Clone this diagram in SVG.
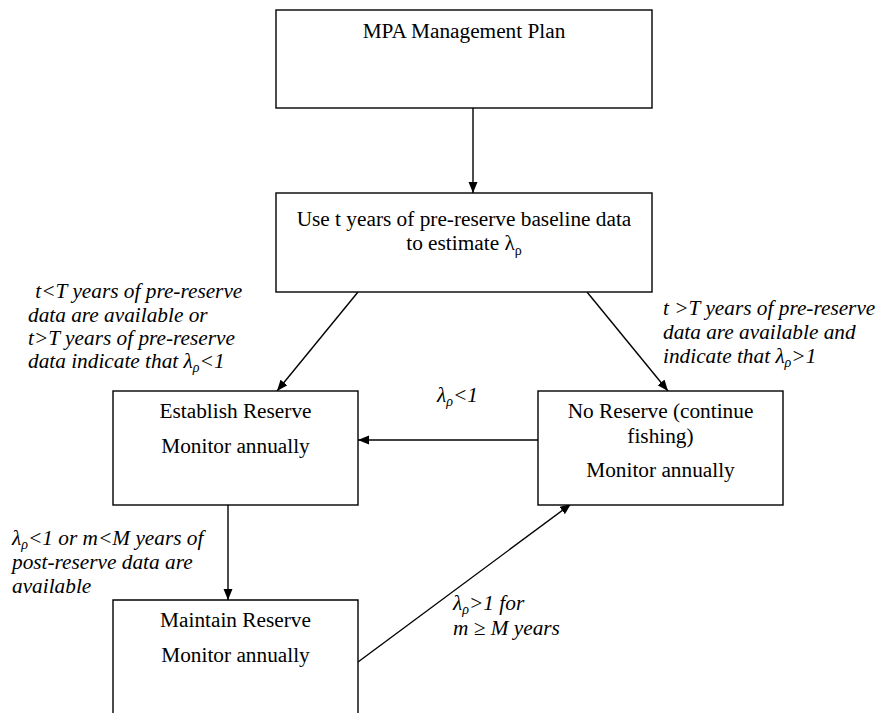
<svg xmlns="http://www.w3.org/2000/svg" width="886" height="713" viewBox="0 0 886 713">
<style>
.box{fill:#fff;stroke:#000;stroke-width:1.4}
text{font-family:'Liberation Serif','DejaVu Serif',serif;font-size:21.3px;fill:#000}
.c{text-anchor:middle}
.i{font-style:italic}
.sub{font-size:14px}
.ln{stroke:#000;stroke-width:1.4;fill:none}
</style>
<defs>
<marker id="ah" markerUnits="userSpaceOnUse" markerWidth="12" markerHeight="10" refX="11" refY="4.5" orient="auto">
<path d="M0,0 L11,4.5 L0,9 z" fill="#000"/>
</marker>
</defs>
<rect width="886" height="713" fill="#fff"/>
<g id="connectors">
<line class="ln" x1="473" y1="108" x2="473" y2="193" marker-end="url(#ah)"/>
<line class="ln" x1="358" y1="292" x2="277" y2="391" marker-end="url(#ah)"/>
<line class="ln" x1="587" y1="292" x2="668" y2="391" marker-end="url(#ah)"/>
<line class="ln" x1="538" y1="440" x2="358" y2="440" marker-end="url(#ah)"/>
<line class="ln" x1="228" y1="505" x2="228" y2="600" marker-end="url(#ah)"/>
<line class="ln" x1="358" y1="662" x2="571" y2="504" marker-end="url(#ah)"/>
</g>
<g id="plan" font-family="Liberation Serif, serif">
<rect class="box" x="276" y="10" width="376" height="98"/>
<text class="c" x="464" y="38">MPA Management Plan</text>
</g>
<g id="estimate" font-family="Liberation Serif, serif">
<rect class="box" x="276" y="193" width="376" height="99"/>
<text class="c" x="464" y="226">Use t years of pre-reserve baseline data</text>
<text class="c" x="464" y="250">to estimate λ<tspan class="sub" dy="5">ρ</tspan></text>
</g>
<g id="establish" font-family="Liberation Serif, serif">
<rect class="box" x="113" y="391" width="245" height="114"/>
<text class="c" x="235.5" y="418">Establish Reserve</text>
<text class="c" x="235.5" y="453">Monitor annually</text>
</g>
<g id="noreserve" font-family="Liberation Serif, serif">
<rect class="box" x="538" y="391" width="245" height="114"/>
<text class="c" x="660.5" y="418">No Reserve (continue</text>
<text class="c" x="660.5" y="443">fishing)</text>
<text class="c" x="660.5" y="477">Monitor annually</text>
</g>
<g id="maintain" font-family="Liberation Serif, serif">
<path class="box" d="M113,720 L113,600 L358,600 L358,720"/>
<text class="c" x="235.5" y="627">Maintain Reserve</text>
<text class="c" x="235.5" y="662">Monitor annually</text>
</g>
<g id="labels" font-family="Liberation Serif, serif">
<text class="i" x="30" y="298" xml:space="preserve"> t&lt;T years of pre-reserve</text>
<text class="i" x="28" y="322">data are available or</text>
<text class="i" x="28" y="345">t&gt;T years of pre-reserve</text>
<text class="i" x="28" y="368">data indicate that λ<tspan class="sub" dy="4">ρ</tspan><tspan dy="-4">&lt;1</tspan></text>
<text class="i" x="663" y="315">t &gt;T years of pre-reserve</text>
<text class="i" x="663" y="339">data are available and</text>
<text class="i" x="663" y="363">indicate that λ<tspan class="sub" dy="4">ρ</tspan><tspan dy="-4">&gt;1</tspan></text>
<text class="i" x="437" y="402">λ<tspan class="sub" dy="4">ρ</tspan><tspan dy="-4">&lt;1</tspan></text>
<text class="i" x="12" y="545">λ<tspan class="sub" dy="4">ρ</tspan><tspan dy="-4">&lt;1 or m&lt;M years of</tspan></text>
<text class="i" x="12" y="569">post-reserve data are</text>
<text class="i" x="12" y="593">available</text>
<text class="i" x="453" y="610">λ<tspan class="sub" dy="4">ρ</tspan><tspan dy="-4">&gt;1 for</tspan></text>
<text class="i" x="453" y="635">m ≥ M years</text>
</g>
</svg>
